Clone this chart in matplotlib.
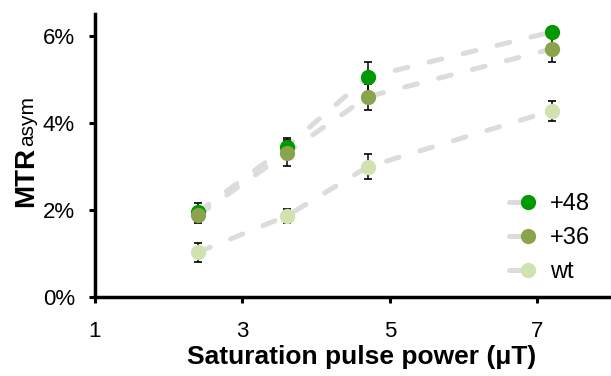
import numpy as np
import matplotlib
matplotlib.use("Agg")
import matplotlib.pyplot as plt

plt.rcParams['font.family'] = ['Liberation Sans', 'DejaVu Sans']
plt.rcParams['lines.scale_dashes'] = False

# saturation pulse power (uT)
power = [2.4, 3.6, 4.7, 7.2]

# MTRasym (%) and error bars
mtr_48 = [1.95, 3.45, 5.05, 6.09]
err_48 = [0.20, 0.20, 0.35, 0.10]
mtr_36 = [1.88, 3.31, 4.60, 5.70]
err_36 = [0.18, 0.30, 0.30, 0.30]
mtr_wt = [1.03, 1.86, 2.99, 4.28]
err_wt = [0.22, 0.16, 0.29, 0.23]

labels = ['+48', '+36', 'wt']
colors = ['#009a00', '#8ba44c', '#d0e2b0']
series = [(mtr_48, err_48), (mtr_36, err_36), (mtr_wt, err_wt)]

fig = plt.figure(figsize=(6.11, 3.76), dpi=100)
ax = fig.add_axes([95/611, 79/376, 516/611, 283/376])

handles = []
for i, (y, e) in enumerate(series):
    # dashed connecting line underneath
    ax.plot(power, y, color='#dcdcdc', lw=3.6, dashes=(9.4, 15.8),
            dash_capstyle='round', solid_capstyle='round', zorder=1)
    ax.errorbar(power, y, yerr=e, fmt='none', ecolor='black', elinewidth=1.1,
                capsize=2.9, capthick=1.2, zorder=2)
    ax.plot(power, y, 'o', color=colors[i], ms=11, mec='none', zorder=3 + i)
    # proxy for legend: short gray line with marker at right end
    h, = ax.plot([], [], color='#dcdcdc', lw=3.6, solid_capstyle='round',
                 marker='o', ms=11, mfc=colors[i], mec='none', label=labels[i])
    handles.append(h)

ax.set_xlim(1, 8)
ax.set_ylim(0, 6.5)
ax.set_xticks([1, 3, 5, 7])
ax.set_yticks([0, 2, 4, 6])
ax.set_yticklabels(['0%', '2%', '4%', '6%'])

for s in ['top', 'right']:
    ax.spines[s].set_visible(False)
for s in ['left', 'bottom']:
    ax.spines[s].set_linewidth(2.5)
ax.tick_params(axis='both', width=2.2, labelsize=16, direction='out')
ax.tick_params(axis='y', length=4.5, pad=10)
ax.tick_params(axis='x', length=4, pad=13)

ax.set_xlabel('Saturation pulse power (\u03bcT)', fontsize=19, fontweight='bold')
ax.xaxis.set_label_coords(0.516, -0.17)

# y label: bold MTR with smaller 'asym' on the same baseline
t1 = fig.text(33/611, 1 - 207/376, 'MTR', rotation=90, rotation_mode='anchor',
              ha='left', va='baseline', fontsize=20, fontweight='bold')
fig.canvas.draw()
bb = t1.get_window_extent()
fig.text(33/611, (bb.y1 + 0.5) / fig.bbox.height, 'asym', rotation=90,
         rotation_mode='anchor', ha='left', va='baseline', fontsize=15)

leg = ax.legend(handles=handles, loc='lower right', frameon=False, fontsize=17,
                handlelength=0.8, handletextpad=0.9, labelspacing=0.5,
                bbox_to_anchor=(1.0, -0.025))
for l in leg.get_lines():
    l.set_markevery([2])

fig.savefig('out.png', dpi=100)
